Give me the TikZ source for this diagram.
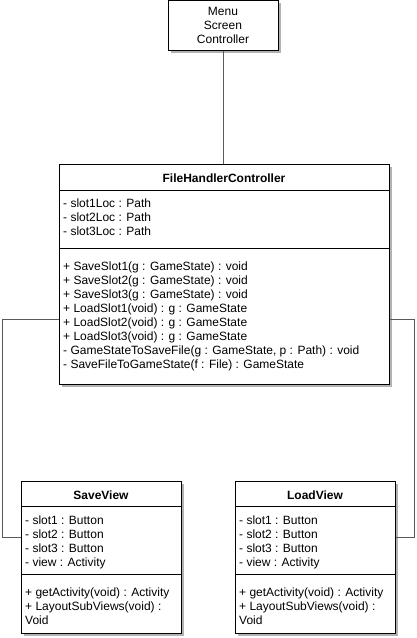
\documentclass[tikz,border=0pt]{standalone}
\usepackage{fontspec}
\setmainfont{Liberation Sans}
\usetikzlibrary{calc}
\usetikzlibrary{shadows}

\begin{document}
\begin{tikzpicture} [x=1pt, y=-1pt,
  cls/.style={draw=black, line width=1pt, fill=white, anchor=north west, inner sep=0pt,
    drop shadow={shadow xshift=2pt, shadow yshift=-2pt, fill=black!30, opacity=1}},
  ttl/.style={font=\fontsize{12}{14}\selectfont\bfseries, inner sep=0pt, anchor=base},
  txt/.style={font=\fontsize{12}{14}\selectfont, inner sep=0pt, anchor=base west},
  conn/.style={draw=black!65, line width=1pt}]

\useasboundingbox (0,0) rectangle (417,638);

\node[cls, minimum width=110, minimum height=50] (menu) at (168,0) {};
\foreach \t [count=\i] in {Menu,Screen,Controller} {
 \node[txt, anchor=base] (menu\i) at (223,1+14*\i) {\t};
};

\node[cls, minimum width=330, minimum height=220] (fhc) at (59,164) {};
\draw[line width=1pt] (59,190) --(389,190) (59,248) --(389,248);
\node[ttl] (fhct) at (224,182) {FileHandlerController};
\foreach \t [count=\i] in {slot1Loc,slot2Loc,slot3Loc} {
 \node[txt] (fhca\i) at (63,193+14*\i) {- \t\ : Path};
};
\foreach \t [count=\i] in {+ SaveSlot1(g : GameState) : void,
  + SaveSlot2(g : GameState) : void, + SaveSlot3(g : GameState) : void,
  + LoadSlot1(void) : g : GameState, + LoadSlot2(void) : g : GameState,
  + LoadSlot3(void) : g : GameState, {- GameStateToSaveFile(g : GameState, p : Path) : void},
  - SaveFileToGameState(f : File) : GameState} {
 \node[txt] (fhcm\i) at (63,256+14*\i) {\t};
};

\foreach \n/\name/\x in {save/SaveView/21, load/LoadView/235} {
 \node[cls, minimum width=160, minimum height=152] (\n) at (\x,481) {};
 \draw[line width=1pt] (\x,506) --+(160,0) (\x,574) --+(160,0);
 \node[ttl] (\n t) at (\x+80,499) {\name};
 \foreach \t [count=\i] in {slot1 : Button,slot2 : Button,slot3 : Button,view : Activity} {
  \node[txt] (\n a\i) at (\x+4,510+14*\i) {- \t};
 };
 \node[txt] (\n m1) at (\x+4,596) {+ getActivity(void) : Activity};
 \node[txt] (\n m2) at (\x+4,610) {+ LayoutSubViews(void) :};
 \node[txt] (\n m3) at (\x+4,624) {Void};
};

\coordinate (lturn) at (2,537);
\coordinate (rturn) at (414,537);
\draw[conn] (menu.south) --(menu.south |- fhc.north);
\draw[conn] ([yshift=-45pt]fhc.west) -| (lturn) --(lturn -| save.west);
\draw[conn] ([yshift=-45pt]fhc.east) -| (rturn) --(rturn -| load.east);

\end{tikzpicture}
\end{document}
